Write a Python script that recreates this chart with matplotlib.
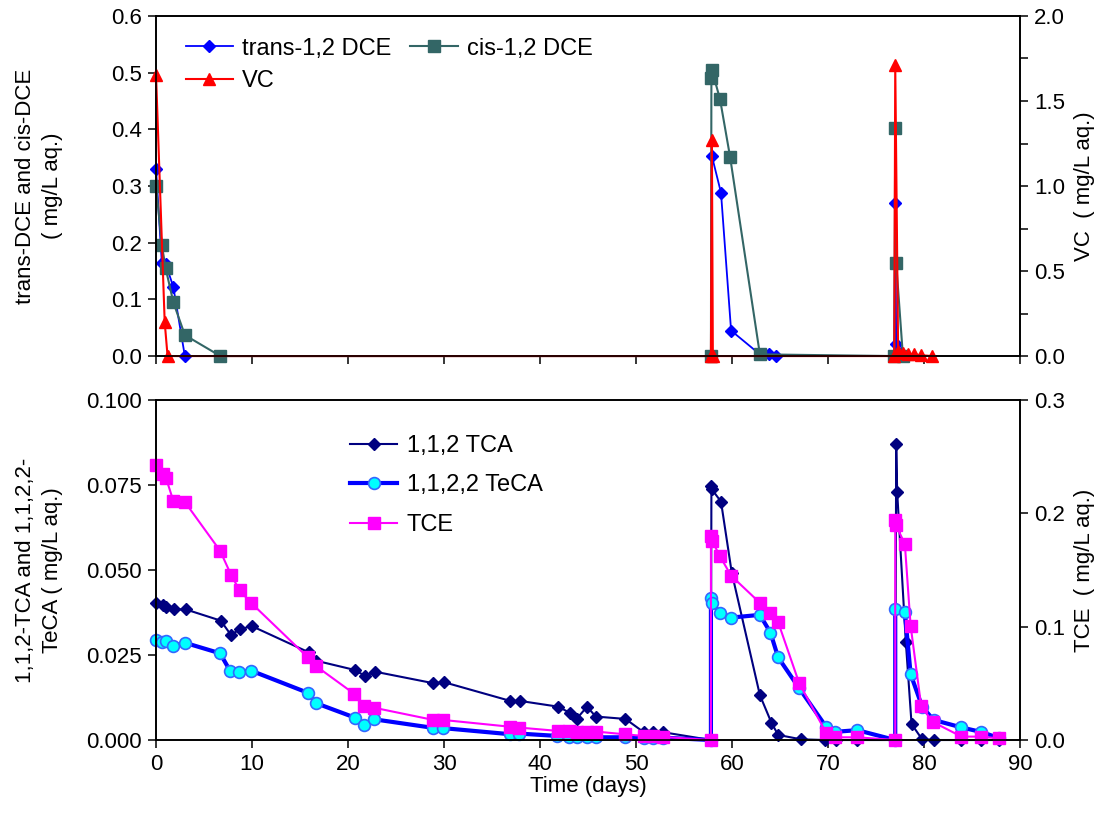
import matplotlib
matplotlib.use("Agg")
import matplotlib.pyplot as plt
from matplotlib.ticker import MultipleLocator, FormatStrFormatter

plt.rcParams['font.family'] = ['Liberation Sans', 'DejaVu Sans']

# ---- top panel: DCE isomers (left axis) and VC (right axis), mg/L aq.
trans_day = [0, 0.6, 1.0, 1.8, 3.0, 57.8, 57.9, 58.85, 59.9, 62.9, 63.9, 64.6,
             76.9, 77.0, 77.1, 77.6, 78.0]
trans_val = [0.33, 0.165, 0.163, 0.122, 0.0, 0.0, 0.353, 0.288, 0.045, 0.003, 0.003, 0.0,
             0.0, 0.27, 0.022, 0.005, 0.0]

cis_day = [0, 0.6, 1.0, 1.8, 3.0, 6.7, 57.8, 57.85, 57.9, 58.75, 59.8, 62.9,
           76.9, 77.0, 77.1, 77.8]
cis_val = [0.30, 0.196, 0.155, 0.095, 0.037, 0.0, 0.0, 0.49, 0.505, 0.453, 0.351, 0.003,
           0.0, 0.402, 0.164, 0.0]

vc_day = [0, 0.9, 1.2, 57.8, 57.9, 58.0, 76.9, 77.0, 77.3, 77.8, 78.3, 79.0, 79.7, 80.8]
vc_val = [1.65, 0.2, 0.0, 0.0, 1.27, 0.0, 0.0, 1.71, 0.03, 0.02, 0.015, 0.01, 0.005, 0.0]

# ---- bottom panel: TCA / TeCA (left axis), TCE (right axis)
tca_day = [0, 0.77, 1.04, 1.85, 3.1, 6.74, 7.8, 8.75, 9.97, 15.9, 16.7, 20.7, 21.8, 22.8,
           28.9, 30.0, 36.9, 37.9, 41.9, 43.1, 43.8, 44.9, 45.8, 48.9, 50.8, 51.8, 52.8,
           57.8, 57.85, 57.9, 58.85, 59.97, 62.9, 64.1, 64.8, 67.2, 69.7, 70.8, 73.0,
           77.0, 77.1, 77.2, 78.1, 78.7, 79.8, 81.0, 83.9, 85.9, 87.8]
tca_val = [0.0404, 0.0397, 0.0392, 0.0384, 0.0384, 0.0351, 0.0309, 0.0326, 0.0335, 0.0258,
           0.0233, 0.0206, 0.0188, 0.0201, 0.0167, 0.0170, 0.0115, 0.0115, 0.0098, 0.0080,
           0.0062, 0.0098, 0.0069, 0.0062, 0.0023, 0.0023, 0.0023,
           0.0, 0.0747, 0.0737, 0.0701, 0.0492, 0.0132, 0.0051, 0.0015, 0.0002, 0.0, 0.0, 0.0,
           0.0, 0.0871, 0.073, 0.0289, 0.0047, 0.0002, 0.0, 0.0, 0.0, 0.0]

teca_day = [0, 0.6, 1.04, 1.8, 3.0, 6.67, 7.7, 8.65, 9.9, 15.8, 16.7, 20.7, 21.7, 22.7,
            28.8, 29.9, 36.9, 37.8, 41.8, 43.0, 43.8, 44.9, 45.8, 48.8, 50.8, 51.8, 52.8,
            57.8, 57.8, 57.9, 58.75, 59.9, 62.9, 64.0, 64.8, 67.0, 69.8, 70.7, 73.05,
            77.0, 77.0, 78.0, 78.6, 79.8, 81.0, 83.9, 85.9, 87.8]
teca_val = [0.0294, 0.0287, 0.0291, 0.0277, 0.0286, 0.0255, 0.0204, 0.0199, 0.0204, 0.0139,
            0.0108, 0.0066, 0.0044, 0.0061, 0.0036, 0.0035, 0.0017, 0.0019, 0.0012, 0.0009,
            0.0009, 0.0008, 0.0008, 0.0008, 0.0007, 0.0007, 0.0007,
            0.0, 0.0417, 0.0404, 0.0373, 0.036, 0.0368, 0.0316, 0.0243, 0.0152, 0.0039, 0.0024, 0.0029,
            0.0, 0.0384, 0.0377, 0.0194, 0.0098, 0.0059, 0.0037, 0.0024, 0.0006]

tce_day = [0, 0.77, 1.04, 1.8, 3.0, 6.67, 7.8, 8.7, 9.9, 15.8, 16.7, 20.6, 21.7, 22.7,
           28.9, 29.9, 36.9, 37.8, 41.9, 43.0, 43.8, 44.9, 45.8, 48.9, 50.8, 51.8, 52.8,
           57.8, 57.8, 57.9, 58.75, 59.9, 62.9, 64.0, 64.8, 67.0, 69.8, 70.7, 73.05,
           77.0, 77.0, 77.05, 78.0, 78.6, 79.7, 80.9, 83.9, 85.9, 87.8]
tce_val = [0.243, 0.235, 0.231, 0.211, 0.210, 0.167, 0.146, 0.132, 0.121, 0.073, 0.065,
           0.041, 0.030, 0.0285, 0.0177, 0.0177, 0.0117, 0.011, 0.008, 0.0078, 0.0075, 0.0075,
           0.0075, 0.005, 0.0036, 0.0033, 0.0027,
           0.0, 0.180, 0.176, 0.162, 0.145, 0.121, 0.112, 0.104, 0.050, 0.0065, 0.0024, 0.0024,
           0.0, 0.194, 0.19, 0.173, 0.101, 0.030, 0.016, 0.003, 0.003, 0.0015]

FS = 16
LFS = 17

fig, (ax1, ax3) = plt.subplots(2, 1, figsize=(11.17, 8.15), dpi=100)
fig.subplots_adjust(left=0.1397, right=0.9132, top=0.9804, bottom=0.092, hspace=0.129)
ax2 = ax1.twinx()
ax4 = ax3.twinx()

# top panel
l_trans, = ax1.plot(trans_day, trans_val, color='#0000FF', lw=1.3, marker='D', ms=6.5,
                    mfc='#0000FF', mec='#0000FF', clip_on=False, label='trans-1,2 DCE')
l_cis, = ax1.plot(cis_day, cis_val, color='#336666', lw=1.5, marker='s', ms=8,
                  mfc='#336666', mec='#336666', clip_on=False, label='cis-1,2 DCE')
l_vc, = ax2.plot(vc_day, vc_val, color='#FF0000', lw=1.5, marker='^', ms=9,
                 mfc='#FF0000', mec='#FF0000', clip_on=False, label='VC')

# bottom panel
l_tca, = ax3.plot(tca_day, tca_val, color='#000080', lw=1.5, marker='D', ms=6.5,
                  mfc='#000080', mec='#000080', clip_on=False, label='1,1,2 TCA')
l_teca, = ax3.plot(teca_day, teca_val, color='#0000FF', lw=3, marker='o', ms=8.5,
                   mfc='#00FFFF', mec='#3366FF', mew=1.2, clip_on=False, label='1,1,2,2 TeCA')
l_tce, = ax4.plot(tce_day, tce_val, color='#FF00FF', lw=1.5, marker='s', ms=8,
                  mfc='#FF00FF', mec='#FF00FF', clip_on=False, label='TCE')

for ax in (ax1, ax3):
    ax.set_xlim(0, 90)
    ax.xaxis.set_major_locator(MultipleLocator(10))

ax1.set_ylim(0, 0.6)
ax1.yaxis.set_major_locator(MultipleLocator(0.1))
ax1.yaxis.set_major_formatter(FormatStrFormatter('%.1f'))
ax1.tick_params(axis='x', labelbottom=False)

ax2.set_ylim(0, 2.0)
ax2.yaxis.set_major_locator(MultipleLocator(0.5))
ax2.yaxis.set_minor_locator(MultipleLocator(0.25))
ax2.yaxis.set_major_formatter(FormatStrFormatter('%.1f'))

ax3.set_ylim(0, 0.1)
ax3.yaxis.set_major_locator(MultipleLocator(0.025))
ax3.yaxis.set_major_formatter(FormatStrFormatter('%.3f'))

ax4.set_ylim(0, 0.3)
ax4.yaxis.set_major_locator(MultipleLocator(0.1))
ax4.yaxis.set_major_formatter(FormatStrFormatter('%.1f'))

for ax in (ax1, ax2, ax3, ax4):
    ax.tick_params(which='major', direction='out', length=6, width=1.1, labelsize=FS, pad=4)
    ax.tick_params(which='minor', direction='out', length=6, width=1.1)
    for s in ax.spines.values():
        s.set_linewidth(1.2)
        s.set_color('black')

ax1.set_ylabel('trans-DCE and cis-DCE\n( mg/L aq.)', fontsize=FS, linespacing=1.35)
ax1.yaxis.set_label_coords(-0.108, 0.5)
ax2.set_ylabel('VC  ( mg/L aq.)', fontsize=FS)
ax2.yaxis.set_label_coords(1.062, 0.5)
ax3.set_ylabel('1,1,2-TCA and 1,1,2,2-\nTeCA ( mg/L aq.)', fontsize=FS, linespacing=1.35)
ax3.yaxis.set_label_coords(-0.108, 0.5)
ax4.set_ylabel('TCE  ( mg/L aq.)', fontsize=FS)
ax4.yaxis.set_label_coords(1.062, 0.5)
ax3.set_xlabel('Time (days)', fontsize=FS, labelpad=1)

ax2.legend([l_trans, l_vc, l_cis], ['trans-1,2 DCE', 'VC', 'cis-1,2 DCE'],
           ncol=2, frameon=False, fontsize=LFS, loc='upper left',
           bbox_to_anchor=(0.015, 0.985), handlelength=2.0, handletextpad=0.4,
           columnspacing=0.8, labelspacing=0.45, borderaxespad=0.3)
ax4.legend([l_tca, l_teca, l_tce], ['1,1,2 TCA', '1,1,2,2 TeCA', 'TCE'],
           frameon=False, fontsize=LFS, loc='upper left',
           bbox_to_anchor=(0.2, 0.96), handlelength=2.0, handletextpad=0.4,
           labelspacing=0.75)

fig.savefig('out.png', dpi=100)
